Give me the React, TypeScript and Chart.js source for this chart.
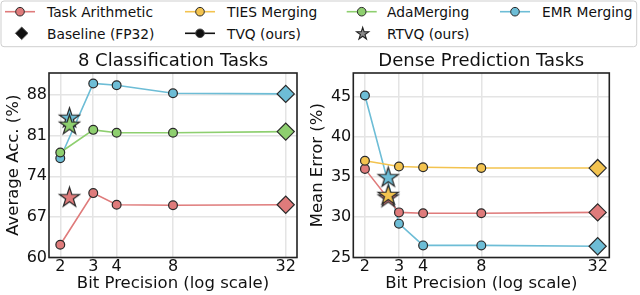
import React, { useEffect, useRef } from 'react';
import { Chart, registerables } from 'chart.js';

Chart.register(...registerables);

const FONT = "'DejaVu Sans', 'Liberation Sans', sans-serif";
const TEXT = '#111111';

// ---------- data ----------
const bits = [2, 3, 4, 8, 32];
const xTickValues = [2, 3, 4, 8, 32];

// 8 Classification Tasks (Average Acc. %)
const clsTaskArithmetic = [62.2, 71.1, 69.1, 69.0, 69.1];
const clsAdaMerging = [78.1, 82.0, 81.5, 81.5, 81.7];
const clsEmrMerging = [77.1, 90.0, 89.7, 88.3, 88.2];
const clsRtvqBits = 2.24;
const clsRtvqTaskArithmetic = 70.3;
const clsRtvqAdaMerging = 82.8;
const clsRtvqEmrMerging = 84.0;
const clsYTicks = [60, 67, 74, 81, 88];

// Dense Prediction Tasks (Mean Error %)
const denseTaskArithmetic = [36.0, 30.6, 30.5, 30.5, 30.6];
const denseTiesMerging = [37.0, 36.3, 36.2, 36.1, 36.1];
const denseEmrMerging = [45.1, 29.2, 26.5, 26.5, 26.4];
const denseRtvqBits = 2.64;
const denseRtvqTaskArithmetic = 32.4;
const denseRtvqTiesMerging = 32.7;
const denseRtvqEmrMerging = 34.9;
const denseYTicks = [25, 30, 35, 40, 45];

// ---------- styles ----------
const C_TA = '#df7b7b';
const C_TIES = '#f3c34f';
const C_ADA = '#8ecf6f';
const C_EMR = '#6dbdd6';
const EDGE = '#2a2a2a';
const markerStyles = ['circle', 'circle', 'circle', 'circle', 'rectRot'];
const markerRadii = [4.4, 4.4, 4.4, 4.4, 8.6];

type Series = { label: string; values: number[]; color: string; order: number };
type Star = { label: string; x: number; y: number; color: string; order: number };

function makeStarImage(color: string, R: number, lw = 1.2): HTMLCanvasElement {
  const pad = 2;
  const size = Math.ceil(2 * (R + pad));
  const c = document.createElement('canvas');
  c.width = size;
  c.height = size;
  const ctx = c.getContext('2d')!;
  const cx = size / 2;
  const cy = size / 2;
  ctx.beginPath();
  for (let i = 0; i < 10; i++) {
    const r = i % 2 === 0 ? R : R * 0.382;
    const a = -Math.PI / 2 + (i * Math.PI) / 5;
    const px = cx + r * Math.cos(a);
    const py = cy + r * Math.sin(a);
    if (i === 0) ctx.moveTo(px, py);
    else ctx.lineTo(px, py);
  }
  ctx.closePath();
  ctx.fillStyle = color;
  ctx.fill();
  ctx.strokeStyle = EDGE;
  ctx.lineWidth = lw;
  ctx.lineJoin = 'miter';
  ctx.stroke();
  return c;
}

const framePlugin = {
  id: 'frame',
  afterDraw(chart: any) {
    const { ctx, chartArea } = chart;
    const { left, top, right, bottom } = chartArea;
    ctx.save();
    ctx.strokeStyle = '#222222';
    ctx.lineWidth = 1.6;
    ctx.strokeRect(left, top, right - left, bottom - top);
    ctx.restore();
  },
};

type PanelProps = {
  left: number;
  width: number;
  title: string;
  yTitle: string;
  yMin: number;
  yMax: number;
  yTicks: number[];
  series: Series[];
  stars: Star[];
  yAxisWidth: number;
  padRight: number;
  yTitlePad: number;
};

function Panel(p: PanelProps) {
  const ref = useRef<HTMLCanvasElement>(null);
  useEffect(() => {
    const canvas = ref.current;
    if (!canvas) return;
    const datasets: any[] = [
      ...p.series.map((s) => ({
        label: s.label,
        data: bits.map((b, i) => ({ x: b, y: s.values[i] })),
        borderColor: s.color,
        backgroundColor: s.color,
        borderWidth: 1.6,
        pointStyle: markerStyles,
        pointRadius: markerRadii,
        pointBackgroundColor: s.color,
        pointBorderColor: EDGE,
        pointBorderWidth: 1.2,
        order: s.order,
        tension: 0,
      })),
      ...p.stars.map((st) => ({
        label: st.label + ' (RTVQ)',
        data: [{ x: st.x, y: st.y }],
        showLine: false,
        pointStyle: makeStarImage(st.color, 10.5),
        pointRadius: 10,
        order: st.order,
      })),
    ];
    const chart = new Chart(canvas, {
      type: 'line',
      data: { datasets },
      plugins: [framePlugin],
      options: {
        animation: false,
        responsive: false,
        devicePixelRatio: 1,
        events: [],
        layout: { padding: { left: 0, right: p.padRight, top: 0, bottom: 0 } },
        plugins: {
          legend: { display: false },
          tooltip: { enabled: false },
          title: {
            display: true,
            text: p.title,
            fullSize: false,
            color: TEXT,
            font: { family: FONT, size: 18, weight: 'normal', lineHeight: 1.2 },
            padding: { top: 5.6, bottom: 0.8 },
          },
        },
        scales: {
          x: {
            type: 'logarithmic',
            bounds: 'data',
            min: Math.pow(2, 0.8),
            max: Math.pow(2, 5.2),
            afterBuildTicks: (s: any) => {
              s.ticks = xTickValues.map((v) => ({ value: v }));
            },
            afterFit: (s: any) => {
              s.height = 37.5;
            },
            ticks: {
              callback: (v: any) => String(v),
              color: TEXT,
              font: { family: FONT, size: 16, lineHeight: 1.2 },
              padding: 0,
              autoSkip: false,
              maxRotation: 0,
            },
            grid: { color: '#e4e4e4', lineWidth: 1.5, drawTicks: false },
            border: { display: false },
            title: {
              display: true,
              text: 'Bit Precision (log scale)',
              color: TEXT,
              font: { family: FONT, size: 16.5, lineHeight: 1.2 },
              padding: { top: 0, bottom: 1.1 },
            },
          },
          y: {
            type: 'linear',
            bounds: 'data',
            min: p.yMin,
            max: p.yMax,
            afterBuildTicks: (s: any) => {
              s.ticks = p.yTicks.map((v) => ({ value: v }));
            },
            afterFit: (s: any) => {
              s.width = p.yAxisWidth;
            },
            ticks: {
              callback: (v: any) => String(v),
              color: TEXT,
              font: { family: FONT, size: 16, lineHeight: 1.2 },
              padding: 2,
            },
            grid: { color: '#e4e4e4', lineWidth: 1.5, drawTicks: false },
            border: { display: false },
            title: {
              display: true,
              text: p.yTitle,
              color: TEXT,
              font: { family: FONT, size: 16.5, lineHeight: 1.2 },
              padding: { top: p.yTitlePad, bottom: 0 },
            },
          },
        },
      } as any,
    });
    return () => chart.destroy();
  }, []);
  return (
    <canvas
      ref={ref}
      width={p.width}
      height={250}
      style={{ position: 'absolute', left: p.left, top: 45, width: p.width, height: 250, display: 'block' }}
    />
  );
}

function starPoints(cx: number, cy: number, R: number) {
  const pts: string[] = [];
  for (let i = 0; i < 10; i++) {
    const r = i % 2 === 0 ? R : R * 0.382;
    const a = -Math.PI / 2 + (i * Math.PI) / 5;
    pts.push(`${(cx + r * Math.cos(a)).toFixed(2)},${(cy + r * Math.sin(a)).toFixed(2)}`);
  }
  return pts.join(' ');
}

function Legend() {
  const y1 = 11.7;
  const y2 = 33.3;
  const lineItems = [
    { label: 'Task Arithmetic', color: C_TA, mx: 20, tx: 47, y: y1, edge: EDGE },
    { label: 'TIES Merging', color: C_TIES, mx: 200, tx: 227, y: y1, edge: EDGE },
    { label: 'AdaMerging', color: C_ADA, mx: 361.7, tx: 387, y: y1, edge: EDGE },
    { label: 'EMR Merging', color: C_EMR, mx: 515, tx: 542, y: y1, edge: EDGE },
    { label: 'TVQ (ours)', color: '#111111', mx: 200, tx: 227, y: y2, edge: '#444' },
  ];
  const fs = 13.8;
  return (
    <svg width={640} height={48} style={{ position: 'absolute', left: 0, top: 0 }}>
      <rect x={1} y={1} width={635.7} height={45.7} rx={3} ry={3} fill="#ffffff" stroke="#cfcfcf" strokeWidth={1} />
      {lineItems.map((it) => (
        <g key={it.label}>
          <line x1={it.mx - 15} y1={it.y} x2={it.mx + 15} y2={it.y} stroke={it.color} strokeWidth={1.6} />
          <circle cx={it.mx} cy={it.y} r={4.3} fill={it.color} stroke={it.edge} strokeWidth={1} />
          <text x={it.tx} y={it.y + 5.4} fontFamily={FONT} fontSize={fs} fill={TEXT}>
            {it.label}
          </text>
        </g>
      ))}
      <polygon
        points={`${21.7 - 6.3},${y2} ${21.7},${y2 - 6.3} ${21.7 + 6.3},${y2} ${21.7},${y2 + 6.3}`}
        fill="#111111"
        stroke="#555555"
        strokeWidth={1}
      />
      <text x={47} y={y2 + 5.4} fontFamily={FONT} fontSize={fs} fill={TEXT}>
        Baseline (FP32)
      </text>
      <polygon points={starPoints(362.7, y2 + 0.5, 6.4)} fill="#8a8a8a" stroke="#222" strokeWidth={1.1} />
      <text x={387} y={y2 + 5.4} fontFamily={FONT} fontSize={fs} fill={TEXT}>
        RTVQ (ours)
      </text>
    </svg>
  );
}

export default function App() {
  useEffect(() => {
    document.body.style.margin = '0';
  }, []);
  const clsSeries: Series[] = [
    { label: 'AdaMerging', values: clsAdaMerging, color: C_ADA, order: 5 },
    { label: 'Task Arithmetic', values: clsTaskArithmetic, color: C_TA, order: 6 },
    { label: 'EMR Merging', values: clsEmrMerging, color: C_EMR, order: 7 },
  ];
  const clsStars: Star[] = [
    { label: 'AdaMerging', x: clsRtvqBits, y: clsRtvqAdaMerging, color: C_ADA, order: 0 },
    { label: 'EMR Merging', x: clsRtvqBits, y: clsRtvqEmrMerging, color: C_EMR, order: 1 },
    { label: 'Task Arithmetic', x: clsRtvqBits, y: clsRtvqTaskArithmetic, color: C_TA, order: 1 },
  ];
  const denseSeries: Series[] = [
    { label: 'TIES Merging', values: denseTiesMerging, color: C_TIES, order: 5 },
    { label: 'Task Arithmetic', values: denseTaskArithmetic, color: C_TA, order: 6 },
    { label: 'EMR Merging', values: denseEmrMerging, color: C_EMR, order: 7 },
  ];
  const denseStars: Star[] = [
    { label: 'TIES Merging', x: denseRtvqBits, y: denseRtvqTiesMerging, color: C_TIES, order: 0 },
    { label: 'Task Arithmetic', x: denseRtvqBits, y: denseRtvqTaskArithmetic, color: C_TA, order: 1 },
    { label: 'EMR Merging', x: denseRtvqBits, y: denseRtvqEmrMerging, color: C_EMR, order: 2 },
  ];
  return (
    <div style={{ position: 'absolute', left: 0, top: 0, width: 640, height: 295, background: '#ffffff', overflow: 'hidden' }}>
      <Legend />
      <Panel
        left={0}
        width={308}
        title="8 Classification Tasks"
        yTitle="Average Acc. (%)"
        yMin={60}
        yMax={91.8}
        yTicks={clsYTicks}
        series={clsSeries}
        stars={clsStars}
        yAxisWidth={49}
        padRight={5}
        yTitlePad={4.1}
      />
      <Panel
        left={308}
        width={332}
        title="Dense Prediction Tasks"
        yTitle="Mean Error (%)"
        yMin={25}
        yMax={47.9}
        yTicks={denseYTicks}
        series={denseSeries}
        stars={denseStars}
        yAxisWidth={45.3}
        padRight={30.7}
        yTitlePad={0}
      />
    </div>
  );
}
